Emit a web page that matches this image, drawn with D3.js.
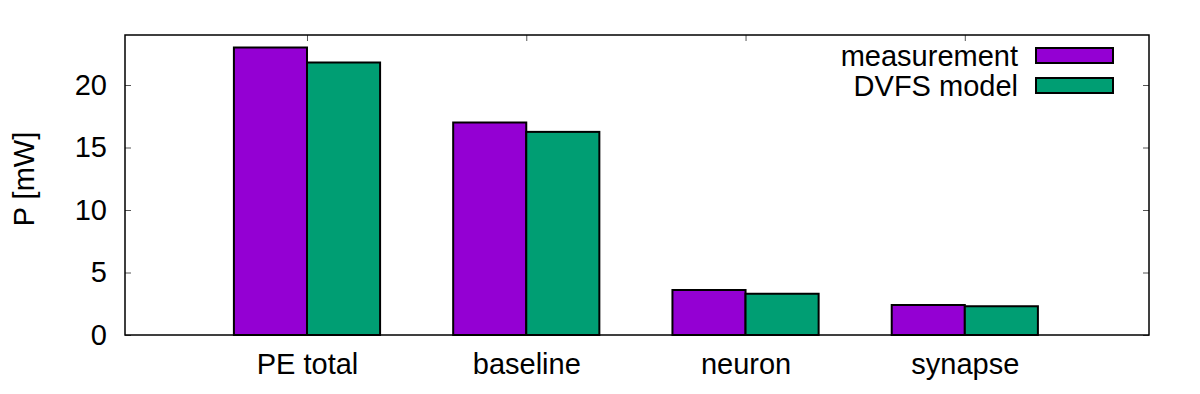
<!DOCTYPE html>
<html>
<head>
<meta charset="utf-8">
<script src="https://cdn.jsdelivr.net/npm/d3@7"></script>
<style>
  body { margin: 0; background: #fff; }
  svg text { font-family: "Liberation Sans", Arial, sans-serif; fill: #000; }
</style>
</head>
<body>
<div id="chart"></div>
<script>
// data
const categories = ["PE total", "baseline", "neuron", "synapse"];
const seriesNames = ["measurement", "DVFS model"];
const measurement = [23.0, 17.0, 3.6, 2.4];
const dvfsModel = [21.8, 16.25, 3.3, 2.3];
const yTicks = [0, 5, 10, 15, 20];
const colors = ["#9400d3", "#009e73"];

const width = 1200, height = 394;
const margin = { top: 35, right: 51, bottom: 59, left: 125 };
const innerW = width - margin.left - margin.right;
const innerH = height - margin.top - margin.bottom;

const svg = d3.select("#chart")
    .append("svg")
    .attr("width", width)
    .attr("height", height);

const g = svg.append("g")
    .attr("transform", "translate(" + margin.left + "," + margin.top + ")");

const x = d3.scaleLinear()
    .domain([-0.83, 3.84])
    .range([0, innerW]);
const y = d3.scaleLinear()
    .domain([0, 24])
    .range([innerH, 0]);

const barW = 1 / 3;
const series = [measurement, dvfsModel];

// bars
series.forEach((vals, si) => {
    g.selectAll(".bar" + si)
        .data(vals)
        .enter()
        .append("rect")
        .attr("x", (d, i) => x(i - barW + si * barW))
        .attr("y", d => y(d))
        .attr("width", x(barW) - x(0))
        .attr("height", d => innerH - y(d))
        .attr("fill", colors[si])
        .attr("stroke", "#000")
        .attr("stroke-width", 2);
});

// y axis left + mirrored right
const fontSize = 29;
const yLeft = g.append("g")
    .call(d3.axisLeft(y).tickValues(yTicks).tickSizeInner(-6).tickSizeOuter(0).tickPadding(18));
const yRight = g.append("g")
    .attr("transform", "translate(" + innerW + ",0)")
    .call(d3.axisRight(y).tickValues(yTicks).tickSizeInner(-6).tickSizeOuter(0).tickFormat(""));

// x axis bottom + mirrored top
const xIdx = categories.map((c, i) => i);
const xBottom = g.append("g")
    .attr("transform", "translate(0," + innerH + ")")
    .call(d3.axisBottom(x).tickValues(xIdx).tickSizeInner(-6).tickSizeOuter(0)
        .tickPadding(18).tickFormat(i => categories[i]));
const xTop = g.append("g")
    .call(d3.axisTop(x).tickValues(xIdx).tickSizeInner(-6).tickSizeOuter(0).tickFormat(""));

[yLeft, yRight, xBottom, xTop].forEach(a => {
    a.select(".domain").remove();
    a.selectAll(".tick line").attr("stroke", "#555").attr("stroke-width", 1);
    a.selectAll("text").style("font-size", fontSize + "px").attr("fill", "#000");
});
// bars sit over bottom ticks
g.selectAll("rect").raise();

// border
g.append("rect")
    .attr("width", innerW)
    .attr("height", innerH)
    .attr("fill", "none")
    .attr("stroke", "#000")
    .attr("stroke-width", 1.5);

// y label
svg.append("text")
    .attr("transform", "translate(34,179) rotate(-90)")
    .attr("text-anchor", "middle")
    .style("font-size", fontSize + "px")
    .text("P [mW]");

// legend
const legend = svg.append("g");
seriesNames.forEach((name, i) => {
    const cy = 55.5 + i * 30;
    legend.append("text")
        .attr("x", 1018)
        .attr("y", cy)
        .attr("dy", "0.35em")
        .attr("text-anchor", "end")
        .style("font-size", fontSize + "px")
        .text(name);
    legend.append("rect")
        .attr("x", 1036)
        .attr("y", cy - 7.5)
        .attr("width", 77)
        .attr("height", 15)
        .attr("fill", colors[i])
        .attr("stroke", "#000")
        .attr("stroke-width", 2);
});
</script>
</body>
</html>
